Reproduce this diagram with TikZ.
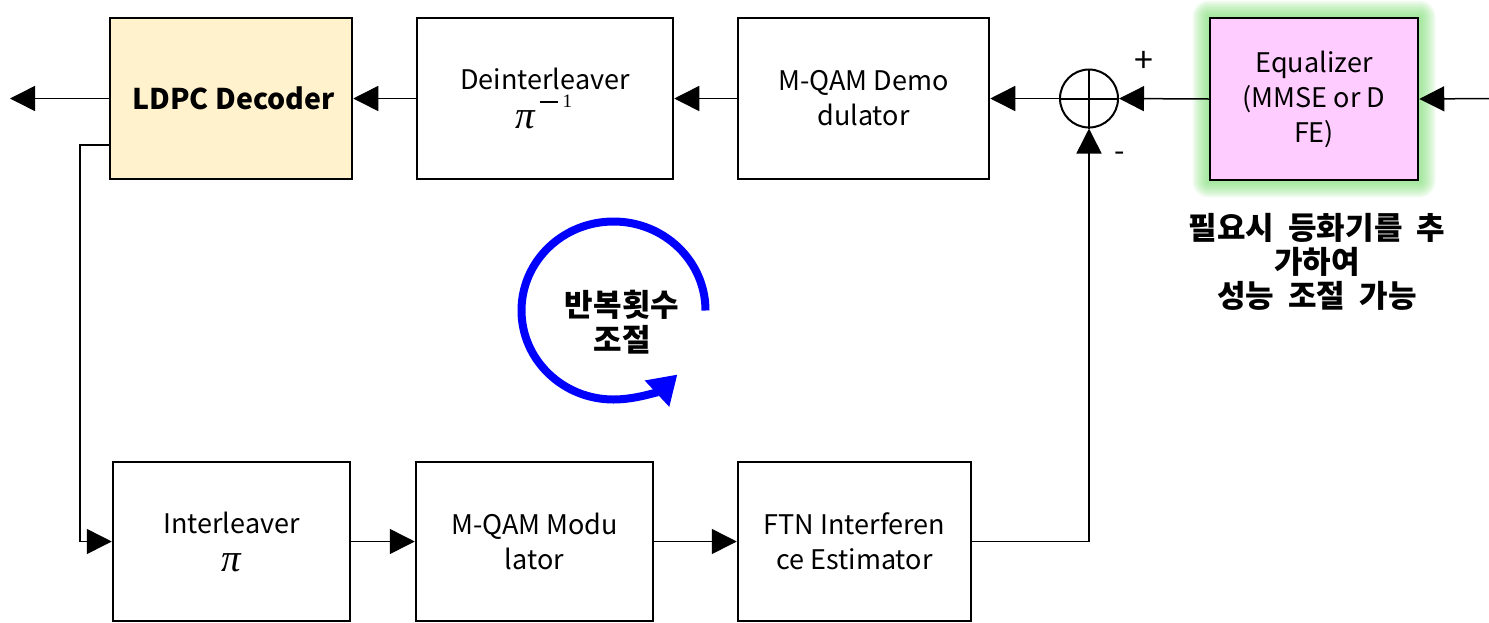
\documentclass[tikz,border=0pt]{standalone}
\usepackage{fontspec}
\setmainfont{Noto Sans CJK KR}
\newfontfamily\pifont{Liberation Serif}
\usetikzlibrary{arrows.meta,backgrounds}
\definecolor{ldpcfill}{RGB}{255,242,204}
\definecolor{eqfill}{RGB}{255,204,255}
\definecolor{glowgreen}{RGB}{120,220,110}
\newcommand{\mypi}{{\pifont\itshape\fontsize{39}{35}\selectfont π}}
\newcommand{\myinv}{\smash{\hspace{4pt}\raisebox{26pt}{\rule{18pt}{1.5pt}}\hspace{5pt}\raisebox{21pt}{\pifont\fontsize{19}{20}\selectfont 1}}}
\newcommand{\wsp}{\hskip 14pt}
\begin{document}
\begin{tikzpicture}[x=1pt,y=-1pt,
  box/.style={draw, line width=2.5pt, minimum height=161pt, align=center,
    font=\fontsize{27}{35}\selectfont, inner sep=0pt},
  conn/.style={line width=1.5pt, -{Triangle[length=25pt,width=25pt]}},
  sign/.style={inner sep=0pt},
  note/.style={align=center, font=\bfseries\fontsize{31}{34}\selectfont, inner sep=0pt}]
\useasboundingbox (0,0) rectangle (1489,622);

% top row
\node[box, fill=ldpcfill, minimum width=242pt, font=\bfseries\fontsize{28.5}{35}\selectfont] (ldpc) at (231,98.5) {\hspace*{5pt}LDPC Decoder};
\node[box, minimum width=256pt] (deint) at (545,98.5) {Deinterleaver\\[4pt]\mypi\myinv\hspace*{2pt}};
\node[box, minimum width=251pt] (demod) at (863.5,98.5) {M-QAM Demo\\dulator};
\node[draw, circle, line width=2pt, minimum size=58pt, inner sep=0pt] (sum) at (1089,98.5) {};
\node[box, fill=eqfill, minimum width=208pt, minimum height=162pt] (eq) at (1314,99) {Equalizer\\(MMSE or D\\FE)};

% glow
\begin{scope}[on background layer]
\foreach \g in {2,4,...,16}
  \fill[glowgreen, opacity=0.12, rounded corners=\g pt]
    ([shift={(-\g pt,\g pt)}]eq.north west) rectangle ([shift={(\g pt,-\g pt)}]eq.south east);
\end{scope}

% bottom row
\node[box, minimum width=237pt, minimum height=159pt] (intl) at (231.5,541.5) {Interleaver\\[3pt]\mypi};
\node[box, minimum width=237pt, minimum height=159pt] (mod) at (534.5,541.5) {M-QAM Modu\\lator};
\node[box, minimum width=233pt, minimum height=159pt] (ftn) at (854.5,541.5) {FTN Interferen\\ce Estimator};

% plus inside summing junction
\draw[line width=2pt] (sum.north) -- (sum.south) (sum.west) -- (sum.east);
\node[sign, font=\fontsize{34}{36}\selectfont] (plus) at (1144,62) {+};
\node[sign, font=\fontsize{30}{32}\selectfont] (minus) at (1120,157) {-};

% coordinates
\coordinate (in) at (1489,98.5);
\coordinate (out) at (10,98.5);
\coordinate (fbs) at (110,145);
\coordinate (fbc) at (80,145);

% connectors
\draw[conn] (in) -- (eq.east);
\draw[conn] (eq.west) -- (sum.east);
\draw[conn] (sum.west) -- (demod.east);
\draw[conn] (demod.west) -- (deint.east);
\draw[conn] (deint.west) -- (ldpc.east);
\draw[conn] (ldpc.west) -- (out);
\draw[conn] (fbs) -- (fbc) |- (intl.west);
\draw[conn] (intl.east) -- (mod.west);
\draw[conn] (mod.east) -- (ftn.west);
\draw[conn] (ftn.east) -| (sum.south);

% iteration arrow
\coordinate (loopc) at (613.5,310.5);
\draw[blue, line width=8pt, -{Triangle[length=28pt,width=34pt]}]
  (loopc) ++(92pt,0pt) arc[start angle=0, end angle=314, x radius=92pt, y radius=89pt];
\node[note, font=\bfseries\fontsize{31}{35}\selectfont] (loopt) at (622,322) {반복횟수\\조절};

% note
\node[note] (eqnote) at (1317,262) {필요시\wsp 등화기를\wsp 추\\가하여\\성능\wsp 조절\wsp 가능};
\end{tikzpicture}
\end{document}
